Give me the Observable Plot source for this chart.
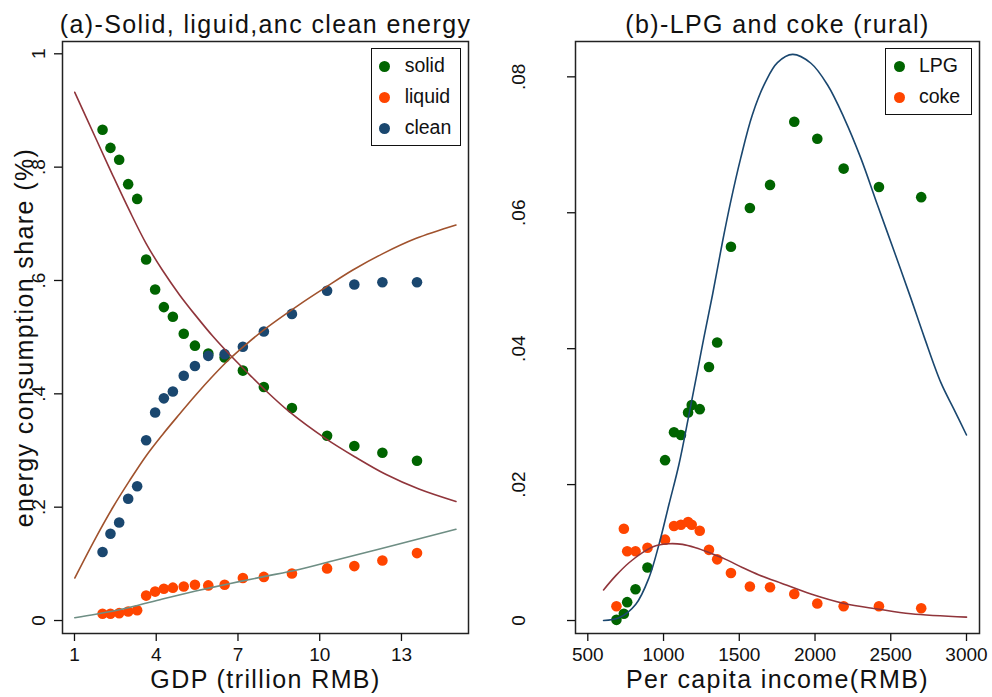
<!DOCTYPE html>
<html>
<head>
<meta charset="utf-8">
<script src="https://cdn.jsdelivr.net/npm/d3@7"></script>
<script src="https://cdn.jsdelivr.net/npm/@observablehq/plot@0.6"></script>
<style>
html,body{margin:0;padding:0;background:#fff;}
#wrap{position:relative;width:992px;height:697px;display:flex;overflow:hidden;font-family:"Liberation Sans",Arial,Helvetica,sans-serif;color:#111;}
#wrap svg{display:block;overflow:visible;flex:none;}
g[font-size="25"] text{letter-spacing:1.4px;}
.legend{position:absolute;box-sizing:border-box;border:1.3px solid #111;background:#fff;padding:2px 0;font-size:19.5px;line-height:1;}
.legend .row{height:31px;display:flex;align-items:center;}
.legend .sw{width:11px;height:11px;border-radius:50%;margin-left:7.5px;margin-right:14.5px;flex:none;}
</style>
</head>
<body>
<div id="wrap"></div>
<script>
// ---------------- Panel (a): Solid, liquid and clean energy ----------------
const gdp         = [2.03, 2.32, 2.64, 2.97, 3.30, 3.63, 3.96, 4.28, 4.61, 5.01, 5.42, 5.91, 6.51, 7.18, 7.95, 8.98, 10.27, 11.27, 12.30, 13.57];
const solidShare  = [0.866, 0.834, 0.813, 0.770, 0.744, 0.637, 0.584, 0.553, 0.536, 0.506, 0.485, 0.471, 0.464, 0.441, 0.412, 0.375, 0.326, 0.308, 0.296, 0.282];
const liquidShare = [0.012, 0.012, 0.013, 0.016, 0.018, 0.044, 0.051, 0.056, 0.058, 0.060, 0.063, 0.062, 0.063, 0.075, 0.077, 0.083, 0.092, 0.096, 0.106, 0.119];
const cleanShare  = [0.121, 0.153, 0.173, 0.215, 0.237, 0.318, 0.367, 0.392, 0.404, 0.432, 0.449, 0.467, 0.470, 0.483, 0.510, 0.541, 0.582, 0.593, 0.597, 0.597];

// fitted curves
const solidFitX  = [1.01, 1.78, 2.40, 3.01, 3.62, 4.23, 4.85, 5.45, 6.07, 6.80, 7.42, 7.97, 8.87, 10.22, 11.32, 12.42, 13.64, 15.0];
const solidFitY  = [0.932, 0.851, 0.786, 0.724, 0.666, 0.618, 0.575, 0.538, 0.502, 0.464, 0.434, 0.408, 0.369, 0.321, 0.288, 0.258, 0.232, 0.210];
const cleanFitX  = [1.01, 1.78, 2.40, 3.01, 3.62, 4.23, 4.85, 5.45, 6.07, 6.68, 7.29, 8.01, 9.24, 10.22, 11.2, 12.30, 13.52, 15.0];
const cleanFitY  = [0.075, 0.146, 0.199, 0.246, 0.290, 0.328, 0.364, 0.398, 0.431, 0.461, 0.487, 0.515, 0.557, 0.588, 0.618, 0.647, 0.674, 0.698];
const liquidFitX = [1.01, 1.78, 3.01, 4.23, 5.45, 6.68, 7.90, 9.24, 10.46, 11.69, 12.91, 15.0];
const liquidFitY = [0.005, 0.011, 0.023, 0.038, 0.052, 0.065, 0.077, 0.090, 0.105, 0.120, 0.135, 0.161];

const gdpTicks        = [1, 4, 7, 10, 13];
const shareTicks      = [0, 0.2, 0.4, 0.6, 0.8, 1];
const shareTickLabels = ["0", ".2", ".4", ".6", ".8", "1"];
const seriesA         = ["solid", "liquid", "clean"];

// ---------------- Panel (b): LPG and coke (rural) ----------------
const income    = [689, 738, 760, 815, 894, 1010, 1069, 1115, 1162, 1186, 1239, 1300, 1354, 1445, 1570, 1703, 1863, 2015, 2189, 2422, 2701];
const lpgShare  = [0.0001, 0.0010, 0.0027, 0.0046, 0.0078, 0.0236, 0.0277, 0.0273, 0.0306, 0.0317, 0.0311, 0.0373, 0.0409, 0.0550, 0.0607, 0.0641, 0.0734, 0.0709, 0.0665, 0.0638, 0.0623];
const cokeShare = [0.0021, 0.0135, 0.0102, 0.0102, 0.0107, 0.0119, 0.0139, 0.0141, 0.0145, 0.0141, 0.0132, 0.0104, 0.0090, 0.0070, 0.0050, 0.0049, 0.0039, 0.0025, 0.0021, 0.0021, 0.0018];

const lpgFitX  = [604, 706, 817, 904, 970, 1036, 1102, 1168, 1224, 1267, 1323, 1389, 1443, 1509, 1586, 1674, 1752, 1852, 1973, 2083, 2193, 2303, 2413, 2523, 2633, 2721, 2831, 2919, 3000];
const lpgFitY  = [0.0000, 0.0004, 0.0024, 0.0063, 0.0112, 0.0171, 0.0230, 0.0303, 0.0367, 0.0417, 0.0479, 0.0557, 0.0616, 0.0680, 0.0744, 0.0793, 0.0821, 0.0833, 0.0820, 0.0788, 0.0739, 0.0680, 0.0611, 0.0543, 0.0474, 0.0417, 0.0350, 0.0310, 0.0273];
const cokeFitX = [604, 685, 772, 861, 949, 1036, 1125, 1212, 1300, 1410, 1520, 1630, 1752, 1973, 2193, 2413, 2633, 3000];
const cokeFitY = [0.0045, 0.0066, 0.0085, 0.0100, 0.0110, 0.0113, 0.0112, 0.0107, 0.0100, 0.0090, 0.0078, 0.0067, 0.0057, 0.0039, 0.0025, 0.0017, 0.0010, 0.0005];

const incomeTicks      = [500, 1000, 1500, 2000, 2500, 3000];
const ruralTicks       = [0, 0.02, 0.04, 0.06, 0.08];
const ruralTickLabels  = ["0", ".02", ".04", ".06", ".08"];
const seriesB          = ["LPG", "coke"];

// ---------------- styles ----------------
const dotColor = {solid: "#006400", liquid: "#FF4500", clean: "#1A476F", LPG: "#006400", coke: "#FF4500"};
const fitColor = {solid: "#90353B", clean: "#A0522D", liquid: "#6E8E84", LPG: "#1A476F", coke: "#90353B"};

function rows(xs, ys, series) { return xs.map((x, i) => ({x, y: ys[i], series})); }

const dotsA = [...rows(gdp, solidShare, "solid"), ...rows(gdp, liquidShare, "liquid"), ...rows(gdp, cleanShare, "clean")];
const fitsA = [...rows(solidFitX, solidFitY, "solid"), ...rows(cleanFitX, cleanFitY, "clean"), ...rows(liquidFitX, liquidFitY, "liquid")];
const dotsB = [...rows(income, lpgShare, "LPG"), ...rows(income, cokeShare, "coke")];
const fitsB = [...rows(lpgFitX, lpgFitY, "LPG"), ...rows(cokeFitX, cokeFitY, "coke")];

const centered = {textAnchor: "middle", lineAnchor: "middle", fill: "#111"};

function panel(o) {
  const marks = [
    Plot.dot(o.dots, {x: "x", y: "y", r: 5.3, fill: d => dotColor[d.series], stroke: null}),
    Plot.line(o.fits, {x: "x", y: "y", z: "series", stroke: d => fitColor[d.series], strokeWidth: 1.6, curve: "catmull-rom"}),
    Plot.frame({stroke: "#222", strokeWidth: 1.5}),
    Plot.axisX({ticks: o.xTicks, tickSize: 8, tickPadding: 6, fontSize: 19, label: null, tickFormat: d => String(d), color: "#111", strokeWidth: 1.3}),
    Plot.axisY({ticks: o.yTicks, tickSize: 8, label: null, tickFormat: () => "", color: "#111", strokeWidth: 1.3}),
    Plot.text(o.yTicks, {...centered, y: d => d, text: (d, i) => o.yLabels[i], frameAnchor: "left", dx: o.yLabelDx, rotate: -90, fontSize: 19}),
    Plot.text([o.title], {...centered, text: d => d, frameAnchor: "top", dy: -16.5, fontSize: 25}),
    Plot.text([o.xTitle], {...centered, text: d => d, frameAnchor: "bottom", dy: 46, fontSize: 25})
  ];
  if (o.yTitle) marks.push(Plot.text([o.yTitle], {...centered, text: d => d, frameAnchor: "left", dx: -38, rotate: -90, fontSize: 25}));
  return Plot.plot({
    width: 496, height: 697,
    marginLeft: o.marginLeft, marginRight: o.marginRight, marginTop: 41, marginBottom: 64,
    style: {fontFamily: "'Liberation Sans', Arial, Helvetica, sans-serif", fontSize: "19px", background: "white", color: "#111", overflow: "visible"},
    x: {domain: o.xDomain},
    y: {domain: o.yDomain},
    color: {type: "identity"},
    marks
  });
}

const wrap = document.getElementById("wrap");

wrap.appendChild(panel({
  marginLeft: 62, marginRight: 28,
  xDomain: [0.56, 15.46], yDomain: [-0.0229, 1.0217],
  xTicks: gdpTicks, yTicks: shareTicks, yLabels: shareTickLabels, yLabelDx: -23.5,
  title: "(a)-Solid, liguid,anc clean energy",
  xTitle: "GDP (trillion RMB)",
  yTitle: "energy consumption share (%)",
  dots: dotsA, fits: fitsA
}));

wrap.appendChild(panel({
  marginLeft: 79, marginRight: 13,
  xDomain: [418.8, 3085.8], yDomain: [-0.00191, 0.0852],
  xTicks: incomeTicks, yTicks: ruralTicks, yLabels: ruralTickLabels, yLabelDx: -56.5,
  title: "(b)-LPG and coke (rural)",
  xTitle: "Per capita income(RMB)",
  yTitle: null,
  dots: dotsB, fits: fitsB
}));

function legend(series, left, top, width, height) {
  const box = document.createElement("div");
  box.className = "legend";
  Object.assign(box.style, {left: left + "px", top: top + "px", width: width + "px", height: height + "px"});
  for (const s of series) {
    const row = document.createElement("div");
    row.className = "row";
    const sw = document.createElement("span");
    sw.className = "sw";
    sw.style.background = dotColor[s];
    const label = document.createElement("span");
    label.textContent = s;
    row.appendChild(sw);
    row.appendChild(label);
    box.appendChild(row);
  }
  wrap.appendChild(box);
}
legend(seriesA, 370.7, 47.7, 90.3, 98);
legend(seriesB, 885, 47.7, 87.3, 67.4);
</script>
</body>
</html>
